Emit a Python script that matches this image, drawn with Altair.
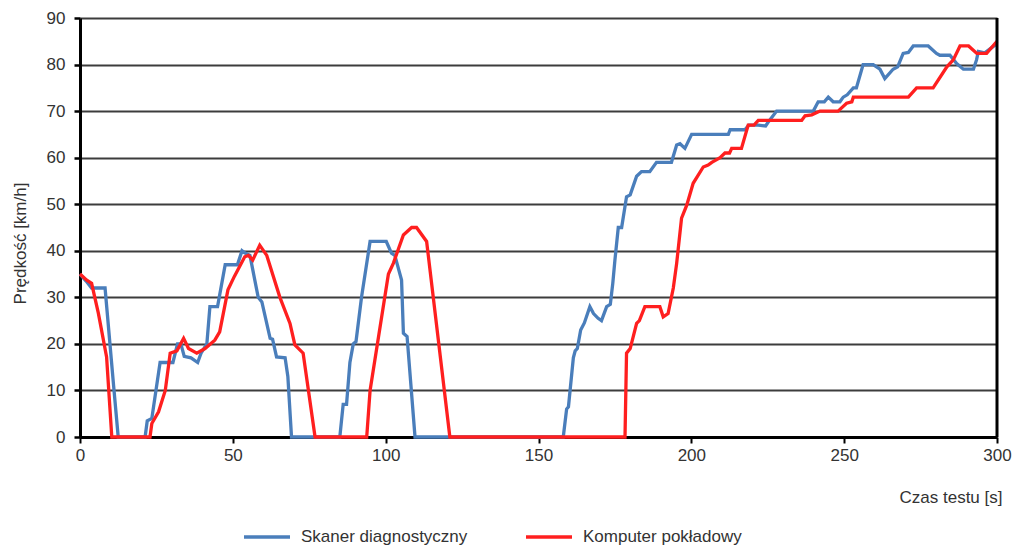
import altair as alt
import pandas as pd

series_names = ["Skaner diagnostyczny", "Komputer pokładowy"]
series_colors = ["#4a7ebb", "#ff1f1f"]

blue_t = [0, 2, 3.8, 8.2, 11, 12.5, 21.3, 22, 23.5, 26.2, 30.4, 31.9, 33, 34.1, 36.3, 38.5, 39.6,
          41.5, 42.5, 45, 47.5, 51.5, 53, 54, 55.6, 58.3, 59.5, 62.2, 63, 64.3, 67.1, 68, 69.2,
          85, 86.1, 87.2, 88.3, 89.4, 90.3, 92.1, 94.9, 100.2, 101.9, 103, 105.2, 105.8, 107, 109.6,
          158.1, 159.2, 159.8, 161.4, 162, 162.7, 163.8, 165, 166.8, 168, 169.5, 170.6, 172.3, 173.5,
          174.3, 175, 176.1, 177.2, 178.8, 180, 182.1, 183.7, 186.4, 188.6, 193.5, 195.2, 196.3, 197.9,
          200.1, 212.1, 212.7, 217.5, 218.8, 221.9, 224.3, 225, 227.9, 239.9, 241.5, 243.5, 244.8,
          246.4, 248.6, 249.7, 251, 253, 254, 256.2, 259.5, 261.7, 263.3, 266, 267.5, 269.3, 271,
          272.6, 277.5, 280.2, 281.3, 284.6, 286.8, 289, 292.3, 293.3, 293.9, 296, 300]
blue_v = [35, 33.5, 32, 32, 11, 0, 0, 3.5, 4, 16, 16, 20, 20, 17.3, 17, 16, 18,
          20, 28, 28, 37, 37, 40, 39.5, 39, 30, 29, 21.2, 21, 17.2, 17, 13, 0,
          0, 7, 7, 16, 20, 20.5, 30, 42, 42, 39.5, 39, 33.7, 22.3, 21.6, 0,
          0, 6, 6.5, 17, 18.5, 19, 23, 24.5, 28, 26.5, 25.5, 25, 28, 28.5,
          33, 38, 45, 45, 51.6, 52, 56, 57, 57, 59, 59, 62.7, 63, 62,
          65, 65, 66, 66, 67, 67, 66.8, 67.5, 70, 70, 72, 72, 73,
          72, 72, 73, 73.5, 75, 75, 80, 80, 79, 77, 79, 79.5, 82.4, 82.6,
          84, 84, 82.4, 82, 82, 80.2, 79, 79, 81, 82.8, 82.5, 84.5]

red_t = [0, 2.2, 3.8, 6, 8.7, 10.4, 22.9, 23.5, 25.7, 27.9, 29.5, 31.7, 33.9, 35.5, 38.2, 40.9,
         44.1, 45.7, 48.4, 50.5, 53.9, 55.1, 56.5, 58.8, 61.1, 65.4, 68.7, 70.3, 73, 76.9,
         93.8, 94.9, 100.9, 102.5, 105.8, 108.5, 110.1, 113.4, 121,
         178.3, 178.8, 180, 182.1, 183, 184.8, 189.7, 190.8, 192.4, 194.1, 195.2, 196.8, 198.5,
         200.6, 203.9, 205.5, 206.7, 209.4, 211, 212.5, 213.2, 216.4, 218.6, 220.5, 221.9, 236.1,
         237.2, 239.4, 242.1, 248, 250.8, 252.5, 253, 271, 273.7, 279.1, 283.6, 285.7, 287.9,
         290.7, 293.4, 296.6, 300]
red_v = [35, 33.7, 33, 26.6, 17.2, 0, 0, 2.9, 5.4, 10, 18, 18.5, 21.2, 19, 18, 19,
         20.8, 22.6, 31.6, 34.5, 38.7, 39, 38, 41.2, 39, 30, 24.4, 19.8, 18, 0,
         0, 10, 35, 37.3, 43.4, 45, 45, 42, 0,
         0, 18, 19, 24.4, 25, 28, 28, 25.8, 26.5, 32, 37.3, 47, 49.8,
         54.5, 58, 58.4, 59, 60, 61, 61, 62, 62, 67, 67, 68, 68,
         69, 69.2, 70, 70, 71.7, 72, 73, 73, 75, 75, 79.5, 81, 84,
         84, 82.4, 82.4, 85]

x_ticks = [0, 50, 100, 150, 200, 250, 300]
y_ticks = [0, 10, 20, 30, 40, 50, 60, 70, 80, 90]

rows = []
for i, (t, v) in enumerate(zip(blue_t, blue_v)):
    rows.append({"t": t, "v": v, "seria": series_names[0], "i": i})
for i, (t, v) in enumerate(zip(red_t, red_v)):
    rows.append({"t": t, "v": v, "seria": series_names[1], "i": i})
df = pd.DataFrame(rows)

FONT = "Liberation Sans"
TXT = "#333333"

lines = alt.Chart(df).mark_line(strokeWidth=3.3).encode(
    x=alt.X("t:Q",
            scale=alt.Scale(domain=[0, 300], nice=False, zero=False),
            axis=alt.Axis(values=x_ticks, title="Czas testu [s]", grid=False,
                          labelFlush=False, labelOverlap=False,
                          domainColor="black", domainWidth=3, tickColor="black",
                          tickWidth=2, tickSize=6, labelPadding=4,
                          titleAnchor="end", titleAlign="right", titleBaseline="middle",
                          titleX=922, titleY=60)),
    y=alt.Y("v:Q",
            scale=alt.Scale(domain=[0, 90], nice=False),
            axis=alt.Axis(values=y_ticks, title="Prędkość [km/h]", grid=True,
                          gridColor="#3c3c3c", gridWidth=1.8,
                          labelFlush=False, labelOverlap=False,
                          domainColor="black", domainWidth=3, tickColor="black",
                          tickWidth=2.5, tickSize=6, labelPadding=9,
                          titleX=-60, titleY=225, titleBaseline="middle")),
    color=alt.Color("seria:N",
                    scale=alt.Scale(domain=series_names, range=series_colors),
                    legend=alt.Legend(title=None, orient="none", direction="horizontal",
                                      legendX=162, legendY=494,
                                      symbolType="stroke", symbolSize=2116,
                                      symbolStrokeWidth=3.5, labelOffset=9,
                                      labelLimit=0,
                                      columnPadding=51, labelFontSize=17,
                                      labelFont=FONT, labelColor=TXT)),
    order=alt.Order("i:Q"),
)

border = alt.Chart(pd.DataFrame({"t": [300]})).mark_rule(color="black", strokeWidth=3).encode(
    x=alt.X("t:Q")
)

chart = alt.layer(lines, border).properties(
    width=917, height=419,
    autosize=alt.AutoSizeParams(type="none"),
    padding={"left": 80, "top": 18, "right": 18, "bottom": 108},
).configure_view(stroke=None).configure_axis(
    labelFont=FONT, labelFontSize=17, labelColor=TXT,
    titleFont=FONT, titleFontSize=17, titleColor=TXT, titleFontWeight="normal",
)

chart.save("out.html", embed_options={"renderer": "svg", "actions": False})
